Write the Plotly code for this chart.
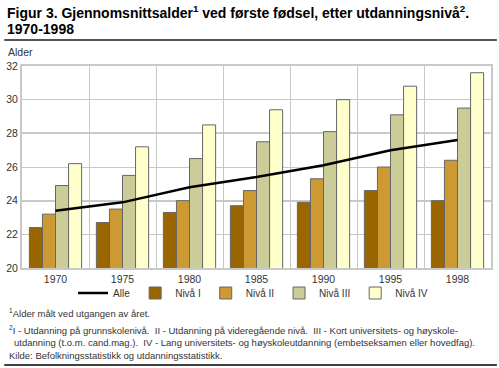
import plotly.graph_objects as go

years = ["1970", "1975", "1980", "1985", "1990", "1995", "1998"]
alle = [23.4, 23.9, 24.8, 25.4, 26.1, 27.0, 27.6]
niva1 = [22.4, 22.7, 23.3, 23.7, 23.9, 24.6, 24.0]
niva2 = [23.2, 23.5, 24.0, 24.6, 25.3, 26.0, 26.4]
niva3 = [24.9, 25.5, 26.5, 27.5, 28.1, 29.1, 29.5]
niva4 = [26.2, 27.2, 28.5, 29.4, 30.0, 30.8, 31.6]
y_ticks = [20, 22, 24, 26, 28, 30, 32]

W, H = 499, 368
ML, MR, MT, MB = 18, 6, 66, 100
PW, PH = W - ML - MR, H - MT - MB

def px(x):
    return (x - ML) / PW

def py(y):
    return (H - MB - y) / PH

FONT = "Liberation Sans"
fig = go.Figure()
series = [("Nivå I", niva1, "#996600"), ("Nivå II", niva2, "#CC9933"),
          ("Nivå III", niva3, "#CCCC99"), ("Nivå IV", niva4, "#FFFFCC")]
for i, (name, vals, col) in enumerate(series):
    fig.add_trace(go.Bar(x=years, y=vals, name=name, legendrank=2 + i,
                         marker=dict(color=col, line=dict(color="#666666", width=1))))
fig.add_trace(go.Scatter(x=years, y=alle, name="Alle", mode="lines", legendrank=1,
                         line=dict(color="black", width=2.5)))
# overlay axis for heavier gridlines every 4
fig.add_trace(go.Scatter(x=[None], y=[None], yaxis="y2", showlegend=False, hoverinfo="skip"))

fig.update_layout(
    width=W, height=H, margin=dict(l=ML, r=MR, t=MT, b=MB),
    paper_bgcolor="white", plot_bgcolor="white",
    font=dict(family=FONT, size=10.5, color="#333333"),
    barmode="group", bargap=0.22, bargroupgap=0,
    xaxis=dict(type="category", tickson="boundaries", showgrid=True, gridcolor="#c8c8c8", gridwidth=1,
               showline=True, linecolor="#c8c8c8", linewidth=2, mirror=True, ticks="",
               tickfont=dict(size=10.5, color="#333333")),
    yaxis=dict(range=[20, 32], tickvals=y_ticks, showgrid=True, gridcolor="#c8c8c8", gridwidth=1,
               showline=True, linecolor="#c8c8c8", linewidth=2, mirror=True, ticks="",
               tickfont=dict(size=10.5, color="#333333"), zeroline=False),
    yaxis2=dict(range=[20, 32], overlaying="y", dtick=4, tick0=20, showgrid=True, gridcolor="#c8c8c8",
                gridwidth=2, showticklabels=False, zeroline=False),
    legend=dict(orientation="h", x=px(252), xanchor="center", y=py(293), yanchor="middle",
                font=dict(size=10, color="#333333"), traceorder="normal", itemwidth=30,
                bgcolor="rgba(0,0,0,0)"),
    showlegend=True,
)

fig.add_shape(type="line", xref="paper", yref="paper", x0=px(0), x1=px(W), y0=py(40), y1=py(40),
              line=dict(color="#555555", width=2))
fig.add_shape(type="line", xref="paper", yref="paper", x0=px(0), x1=px(W), y0=py(365), y1=py(365),
              line=dict(color="black", width=1.5))

def note(text, x, y, size=9.5, color="#333333", bold=False):
    fig.add_annotation(text=text, xref="paper", yref="paper", x=px(x), y=py(y),
                       xanchor="left", yanchor="middle", showarrow=False, align="left",
                       font=dict(size=size, color=color, family=FONT,
                                 weight="bold" if bold else "normal"))

note("Figur 3. Gjennomsnittsalder<sup>1</sup> ved første fødsel, etter utdanningsnivå<sup>2</sup>.", 1, 12, 14, "black", True)
note("1970-1998", 1, 29, 14, "black", True)
note("Alder", 2, 52, 10.5)
note("<sup>1</sup>Alder målt ved utgangen av året.", 3, 313)
note("<sup>2</sup>I - Utdanning på grunnskolenivå.  II - Utdanning på videregående nivå.  III - Kort universitets- og høyskole-", 3, 330)
note("utdanning (t.o.m. cand.mag.).  IV - Lang universitets- og høyskoleutdanning (embetseksamen eller hovedfag).", 8, 342)
note("Kilde: Befolkningsstatistikk og utdanningsstatistikk.", 3, 355)

fig.write_html("out.html", config={"displayModeBar": False},
               post_script="document.body.style.margin='0';")
